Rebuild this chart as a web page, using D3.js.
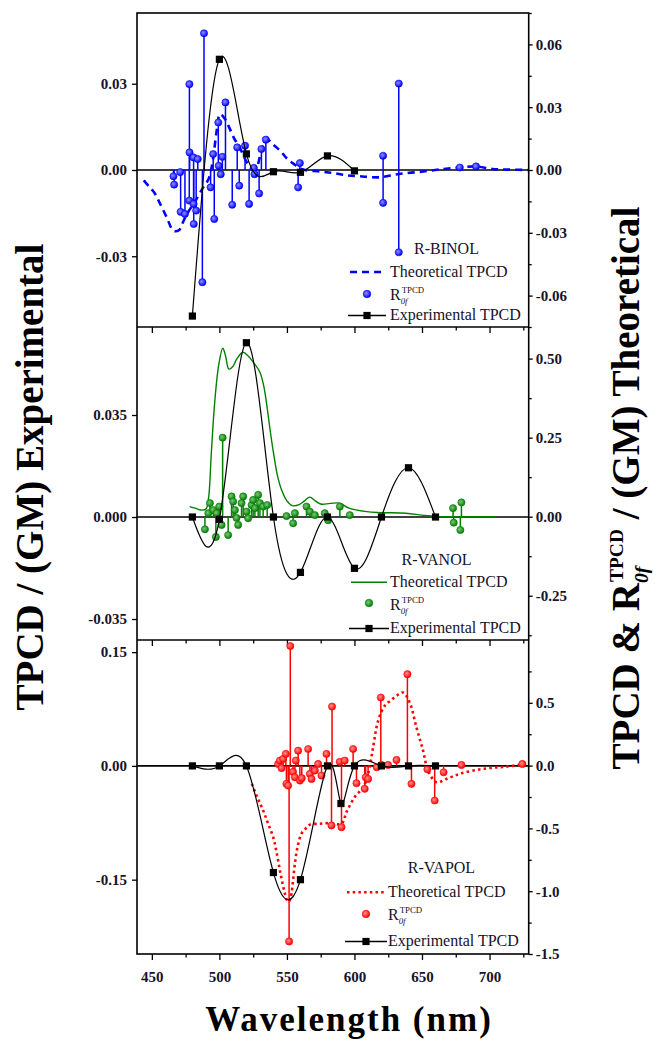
<!DOCTYPE html>
<html>
<head>
<meta charset="utf-8">
<script src="https://cdn.jsdelivr.net/npm/d3@7"></script>
<style>
  body { margin: 0; background: #fff; }
  svg text { font-family: "Liberation Serif", "Times New Roman", serif; white-space: pre; }
</style>
</head>
<body>
<div id="wrapper"></div>
<script>
// ---- data (wavelength nm, value) ----
const wavelengthTicks = [450, 500, 550, 600, 650, 700];
const wavelengthMinor = [475, 525, 575, 625, 675, 725];

// R-BINOL
const binolExp = [[480, -0.0508], [500, 0.0385], [520, 0.0056], [540, -0.0006], [560, -0.0008], [580, 0.0049], [600, -0.0003]];
const binolTheory = [[444, -0.005], [448, -0.008], [452, -0.011], [456, -0.016], [461, -0.0226], [466, -0.029], [470, -0.0288],
  [473, -0.025], [476, -0.021], [482, -0.015], [488, -0.0083], [492, -0.0043], [495, 0.004], [498, 0.0187], [500.5, 0.0267],
  [504, 0.0245], [507.5, 0.020], [511, 0.015], [515, 0.0108], [520, 0.004], [524, 0.0005], [527, 0.0005], [531, 0.009],
  [535, 0.0148], [540, 0.012], [545, 0.0092], [550, 0.0055], [555, 0.0029], [562, 0.0002], [574, -0.0007], [584, -0.0014],
  [594, -0.0025], [604, -0.003], [618, -0.0035], [633, -0.0019], [651, -0.0007], [666, 0.0005], [678, 0.0012], [690, 0.0017],
  [702, 0.0005], [715, 0.0002], [729, 0]];
const binolR = [[466, -0.003], [466.5, -0.007], [471, -0.001], [471.3, -0.020], [474.5, -0.021], [477.8, 0.041], [477.9, 0.0084],
  [477.7, -0.0146], [480.9, 0.006], [480.9, -0.0162], [481, -0.0258], [482.8, -0.0194], [484, 0.0052], [487.4, -0.0536],
  [488.6, 0.0653], [493.5, -0.0083], [495.4, 0.0076], [496.2, -0.0234], [499.2, 0.0227], [499.5, 0.002], [501, -0.002],
  [502.2, 0.0063], [504.5, 0.0323], [509.5, -0.0166], [513.2, 0.0108], [514.7, -0.0075], [519, 0.0116], [522, -0.0162],
  [525.5, 0.001], [526, -0.002], [529.4, -0.0112], [531.1, 0.010], [534.4, 0.0145], [558.3, -0.0083], [559.6, 0.0033],
  [621.2, 0.0068], [621.2, -0.0157], [632.8, 0.0413], [632.8, -0.0393], [678, 0.0012], [690, 0.0017]];

// R-VANOL
const vanolExp = [[480, 0], [500, -0.0008], [520, 0.0598], [540, 0], [560, -0.019], [580, 0], [600, -0.0176], [620, 0], [640, 0.0169], [660, 0]];
const vanolTheory = [[478, 0.032], [482, 0.027], [486, 0.021], [490, 0.024], [492, 0.06], [494, 0.2], [496.5, 0.36], [499.5, 0.48],
  [502.5, 0.533], [504.5, 0.51], [507, 0.467], [510, 0.475], [513, 0.50], [517.5, 0.52], [521, 0.51], [525, 0.489], [530, 0.457],
  [533, 0.41], [535.5, 0.34], [538, 0.26], [540.5, 0.19], [543, 0.13], [546, 0.085], [550, 0.05], [554, 0.035], [559, 0.038],
  [563, 0.05], [567, 0.062], [571, 0.05], [575, 0.04], [582, 0.042], [589, 0.043], [596, 0.027], [609, 0.016], [619, 0.013],
  [638, 0.011], [650, 0.005], [660, 0.001], [680, 0], [705, 0]];
const vanolR = [[489.3, -0.040], [491.8, 0.011], [493, 0.043], [495.5, 0.021], [497.4, -0.064], [498, 0.011], [499.9, 0.032],
  [501.6, -0.026], [502.4, 0.25], [506.5, -0.058], [509, 0.064], [510.2, 0.048], [511.5, 0.021], [512.7, -0.004], [513.9, -0.026],
  [516.4, 0.043], [517.6, 0.064], [520.1, 0.016], [521.3, -0.005], [523.8, 0.037], [525, 0.053], [526.3, 0.027], [528.7, 0.069],
  [530, 0.043], [532.4, 0.032], [535.4, 0.037], [549.7, 0.002], [554.6, -0.021], [555.9, 0.011], [564.5, 0.032], [567, 0.016],
  [570.7, 0.005], [578, 0.011], [580.5, -0.011], [589.2, 0.032], [596.5, 0.005], [673, 0.027], [673.5, -0.019], [679.2, 0.045],
  [678.4, -0.042]];

// R-VAPOL
const vapolExp = [[480, 0], [500, 0], [520, 0], [540, -0.1406], [560, -0.15], [580, 0], [590, -0.0496], [600, 0], [620, 0], [640, 0], [660, 0]];
const vapolTheory = [[524, -0.145], [528, -0.25], [532.4, -0.357], [536, -0.46], [539.8, -0.569], [542.5, -0.70], [544.8, -0.833],
  [547, -0.95], [548.5, -1.018], [550, -1.07], [551.2, -1.085], [552.5, -1.06], [553.4, -1.018], [554.5, -0.92], [555.9, -0.78],
  [558, -0.64], [560.8, -0.542], [564, -0.50], [567, -0.47], [574.4, -0.463], [581.7, -0.458], [590.4, -0.463], [594.1, -0.37],
  [600.2, -0.25], [606.4, -0.172], [610.1, -0.066], [613.8, 0.145], [617.5, 0.357], [622.4, 0.476], [627, 0.52], [631.1, 0.556],
  [636, 0.582], [640.9, 0.502], [645.9, 0.304], [650.8, 0.119], [654.5, -0.04], [660.7, -0.132], [668.1, -0.106], [677.9, -0.066],
  [695.1, -0.026], [712.4, -0.008], [727.2, 0.013]];
const vapolR = [[543.5, 0.013], [544.8, 0.04], [546, -0.02], [547.2, 0.053], [549.2, 0.093], [549.6, -0.145], [550.9, -0.159],
  [551.6, -1.40], [552.5, 0.952], [554.5, -0.05], [555.9, -0.093], [556.6, 0.04], [558.3, 0.119], [559.6, -0.119], [561, -0.1],
  [565.7, 0.132], [567, -0.066], [568.2, -0.106], [570.7, -0.04], [573.1, 0.013], [575.6, -0.079], [579.3, 0.093], [583, -0.476],
  [583.4, 0.47], [589.1, 0.03], [590.4, -0.49], [592.8, 0.04], [599, 0.132], [601.5, -0.14], [607.6, -0.185], [608.3, -0.093],
  [610.1, -0.106], [616.5, -0.013], [619.5, 0.542], [620, 0.005], [624.9, 0.005], [631.1, 0.045], [639.2, 0.728], [642.2, -0.145],
  [654, -0.03], [659.4, -0.278], [666, -0.053], [679.2, 0.005], [724.3, 0.013]];

// axis tick values
const binolLeftTicks = [-0.03, 0, 0.03];
const binolRightTicks = [-0.06, -0.03, 0, 0.03, 0.06];
const binolRightMinor = [-0.075, -0.045, -0.015, 0.015, 0.045, 0.075];
const vanolLeftTicks = [-0.035, 0, 0.035];
const vanolRightTicks = [-0.25, 0, 0.25, 0.5];
const vanolRightMinor = [-0.375, -0.125, 0.125, 0.375];
const vapolLeftTicks = [-0.15, 0, 0.15];
const vapolRightTicks = [-1.5, -1.0, -0.5, 0, 0.5];
const vapolRightMinor = [-1.25, -0.75, -0.25, 0.25, 0.75];

// ---- layout ----
const width = 657, height = 1048;
const frame = { left: 137, right: 528.7, top: 13, bottom: 954 };
const textColor = "#16122a";

const panels = [
  { name: "R-BINOL", color: "#0000ff", light: "#8f8fff", dash: "7,5", theoWidth: 2.6,
    top: 13, bottom: 327, leftDomain: [-0.0546, 0.0546], rightDomain: [-0.075, 0.075],
    leftTicks: binolLeftTicks, leftDigits: 2, rightTicks: binolRightTicks, rightMinor: binolRightMinor, rightDigits: 2,
    exp: binolExp, theo: binolTheory, r: binolR,
    legend: { titleX: 446.5, titleY: 254, lineX: [350, 384], textX: 390, theoY: 272, rY: 294, expY: 315.5, rText: 300 } },
  { name: "R-VANOL", color: "#008000", light: "#7fc47f", dash: null, theoWidth: 1.4,
    top: 327, bottom: 640, leftDomain: [-0.0422, 0.0652], rightDomain: [-0.39, 0.6],
    leftTicks: vanolLeftTicks, leftDigits: 3, rightTicks: vanolRightTicks, rightMinor: vanolRightMinor, rightDigits: 2,
    exp: vanolExp, theo: vanolTheory, r: vanolR,
    legend: { titleX: 436.5, titleY: 565, lineX: [351, 387], textX: 390, theoY: 582.3, rY: 603, expY: 628.5, rText: 610 } },
  { name: "R-VAPOL", color: "#ff0000", light: "#ff9090", dash: "2.5,3.2", theoWidth: 2.6,
    top: 640, bottom: 954, leftDomain: [-0.248, 0.166], rightDomain: [-1.5, 1.0],
    leftTicks: vapolLeftTicks, leftDigits: 2, rightTicks: vapolRightTicks, rightMinor: vapolRightMinor, rightDigits: 1,
    exp: vapolExp, theo: vapolTheory, r: vapolR,
    legend: { titleX: 441.5, titleY: 873, lineX: [347, 385], textX: 388, theoY: 892.3, rY: 914, expY: 941.5, rText: 920 } }
];

const xScale = d3.scaleLinear()
  .domain([439, 729])
  .range([frame.left, frame.right]);

const svg = d3.select("#wrapper")
  .append("svg")
  .attr("width", width)
  .attr("height", height);

const defs = svg.append("defs");

const fmt = digits => d => d.toFixed(digits);

// mixed text with a stacked superscript / subscript
function richText(parent, parts, size, weight) {
  let cx = 0;
  parts.forEach(p => {
    if (p.t) {
      const el = parent.append("text")
        .attr("x", cx).attr("y", 0)
        .attr("fill", textColor)
        .style("font-size", size + "px")
        .style("font-weight", weight)
        .text(p.t);
      cx += el.node().getComputedTextLength();
    } else {
      const small = size * p.scale;
      const sup = parent.append("text")
        .attr("x", cx + (p.supDx || 0)).attr("y", -size * 0.42)
        .attr("fill", textColor)
        .style("font-size", small + "px")
        .style("font-weight", weight)
        .text(p.sup);
      const sub = parent.append("text")
        .attr("x", cx + (p.subDx || 0)).attr("y", size * 0.22)
        .attr("fill", textColor)
        .style("font-size", small + "px")
        .style("font-weight", weight)
        .style("font-style", "italic")
        .text(p.sub);
      cx += Math.max(sup.node().getComputedTextLength(), sub.node().getComputedTextLength()) + (p.supDx || 0);
    }
  });
  return cx;
}

panels.forEach((p, i) => {
  const yL = d3.scaleLinear().domain(p.leftDomain).range([p.bottom, p.top]);
  const yR = d3.scaleLinear().domain(p.rightDomain).range([p.bottom, p.top]);

  defs.append("clipPath").attr("id", "clip" + i)
    .append("rect")
    .attr("x", frame.left).attr("y", p.top)
    .attr("width", frame.right - frame.left).attr("height", p.bottom - p.top);

  const grad = defs.append("radialGradient").attr("id", "ball" + i)
    .attr("cx", "40%").attr("cy", "40%").attr("r", "60%");
  grad.append("stop").attr("offset", "0%").attr("stop-color", p.light);
  grad.append("stop").attr("offset", "100%").attr("stop-color", p.color);

  const plot = svg.append("g").attr("clip-path", `url(#clip${i})`);

  // zero line
  plot.append("line")
    .attr("x1", frame.left).attr("x2", frame.right)
    .attr("y1", yL(0)).attr("y2", yL(0))
    .attr("stroke", "#000").attr("stroke-width", 1.6);

  // theoretical TPCD (right axis)
  plot.append("path")
    .datum(p.theo)
    .attr("d", d3.line().x(d => xScale(d[0])).y(d => yR(d[1])).curve(d3.curveCatmullRom))
    .attr("fill", "none")
    .attr("stroke", p.color)
    .attr("stroke-width", p.theoWidth)
    .attr("stroke-dasharray", p.dash);

  // R0f stems (right axis)
  plot.selectAll(".stem")
    .data(p.r)
    .join("line")
    .attr("class", "stem")
    .attr("x1", d => xScale(d[0])).attr("x2", d => xScale(d[0]))
    .attr("y1", yR(0)).attr("y2", d => yR(d[1]))
    .attr("stroke", p.color).attr("stroke-width", 1.5);

  plot.selectAll(".ball")
    .data(p.r)
    .join("circle")
    .attr("class", "ball")
    .attr("cx", d => xScale(d[0]))
    .attr("cy", d => yR(d[1]))
    .attr("r", 3.6)
    .attr("fill", `url(#ball${i})`)
    .attr("stroke", p.color).attr("stroke-width", 0.6);

  // experimental TPCD (left axis)
  plot.append("path")
    .datum(p.exp)
    .attr("d", d3.line().x(d => xScale(d[0])).y(d => yL(d[1])).curve(d3.curveNatural))
    .attr("fill", "none")
    .attr("stroke", "#000")
    .attr("stroke-width", 1.2);

  plot.selectAll(".sq")
    .data(p.exp)
    .join("rect")
    .attr("class", "sq")
    .attr("x", d => xScale(d[0]) - 3.6)
    .attr("y", d => yL(d[1]) - 3.6)
    .attr("width", 7.2).attr("height", 7.2)
    .attr("fill", "#000");

  // axes
  const styleAxis = g => {
    g.select(".domain").remove();
    g.attr("font-family", null).attr("font-size", null);
    g.selectAll(".tick line").attr("stroke", "#000").attr("stroke-width", 1.3);
    g.selectAll("text")
      .attr("fill", textColor)
      .style("font-size", "15px")
      .style("font-weight", "bold");
  };

  svg.append("g")
    .attr("transform", `translate(${frame.left},0)`)
    .call(d3.axisLeft(yL).tickValues(p.leftTicks).tickSize(5).tickPadding(5).tickFormat(fmt(p.leftDigits)))
    .call(styleAxis);

  svg.append("g")
    .attr("transform", `translate(${frame.right},0)`)
    .call(d3.axisRight(yR).tickValues(p.rightTicks).tickSize(4).tickPadding(3).tickFormat(fmt(p.rightDigits)))
    .call(styleAxis);

  svg.append("g")
    .attr("transform", `translate(${frame.right},0)`)
    .call(d3.axisRight(yR).tickValues(p.rightMinor).tickSize(3).tickFormat(""))
    .call(styleAxis);

  const last = i === panels.length - 1;
  svg.append("g")
    .attr("transform", `translate(0,${p.bottom})`)
    .call(d3.axisBottom(xScale).tickValues(wavelengthTicks).tickSize(6).tickPadding(11)
      .tickFormat(last ? d => d : ""))
    .call(styleAxis);

  svg.append("g")
    .attr("transform", `translate(0,${p.bottom})`)
    .call(d3.axisBottom(xScale).tickValues(wavelengthMinor.filter(v => v < 729)).tickSize(3.5).tickFormat(""))
    .call(styleAxis);

  // legend
  const L = p.legend;
  const leg = svg.append("g").style("font-size", "16px");
  leg.append("text")
    .attr("x", L.titleX).attr("y", L.titleY)
    .attr("text-anchor", "middle")
    .attr("fill", textColor)
    .style("font-size", "16px")
    .text(p.name);

  leg.append("line")
    .attr("x1", L.lineX[0]).attr("x2", L.lineX[1])
    .attr("y1", L.theoY).attr("y2", L.theoY)
    .attr("stroke", p.color)
    .attr("stroke-width", p.theoWidth)
    .attr("stroke-dasharray", p.dash);
  leg.append("text")
    .attr("x", L.textX).attr("y", L.theoY + 4.5)
    .attr("fill", textColor)
    .style("font-size", "16px")
    .text("Theoretical TPCD");

  leg.append("circle")
    .attr("cx", (L.lineX[0] + L.lineX[1]) / 2).attr("cy", L.rY)
    .attr("r", 3.8)
    .attr("fill", `url(#ball${i})`)
    .attr("stroke", p.color).attr("stroke-width", 0.6);
  const rg = leg.append("g").attr("transform", `translate(${L.textX},${L.rText})`);
  richText(rg, [{ t: "R" }, { sup: "TPCD", sub: "0f", scale: 0.55, supDx: 1 }], 16, "normal");

  leg.append("line")
    .attr("x1", L.lineX[0] - 2).attr("x2", L.lineX[1] + 2)
    .attr("y1", L.expY).attr("y2", L.expY)
    .attr("stroke", "#000").attr("stroke-width", 1.3);
  leg.append("rect")
    .attr("x", (L.lineX[0] + L.lineX[1]) / 2 - 3.6).attr("y", L.expY - 3.6)
    .attr("width", 7.2).attr("height", 7.2)
    .attr("fill", "#000");
  leg.append("text")
    .attr("x", L.textX).attr("y", L.expY + 4.5)
    .attr("fill", textColor)
    .style("font-size", "16px")
    .text("Experimental TPCD");
});

// frame and panel separators
svg.append("rect")
  .attr("x", frame.left).attr("y", frame.top)
  .attr("width", frame.right - frame.left).attr("height", frame.bottom - frame.top)
  .attr("fill", "none").attr("stroke", "#000").attr("stroke-width", 1.6);

panels.slice(0, -1).forEach(p => {
  svg.append("line")
    .attr("x1", frame.left).attr("x2", frame.right)
    .attr("y1", p.bottom).attr("y2", p.bottom)
    .attr("stroke", "#000").attr("stroke-width", 1.6);
});

// axis titles
svg.append("text")
  .attr("transform", "translate(43,477) rotate(-90)")
  .attr("text-anchor", "middle")
  .attr("fill", "#000")
  .style("font-size", "39px")
  .style("font-weight", "bold")
  .text("TPCD / (GM) Experimental");

const rightTitle = svg.append("g").attr("transform", "translate(639,488) rotate(-90)");
const rightInner = rightTitle.append("g");
const rw = richText(rightInner, [
  { t: "TPCD & R" },
  { sup: "TPCD", sub: "0f", scale: 0.5, supDx: 1 },
  { t: " / (GM) Theoretical" }
], 39, "bold");
rightInner.attr("transform", `translate(${-rw / 2},0)`);
rightInner.selectAll("text").attr("fill", "#000");

svg.append("text")
  .attr("x", 349).attr("y", 1031)
  .attr("text-anchor", "middle")
  .attr("fill", "#000")
  .style("font-size", "35px")
  .style("font-weight", "bold")
  .style("letter-spacing", "2px")
  .text("Wavelength (nm)");
</script>
</body>
</html>
